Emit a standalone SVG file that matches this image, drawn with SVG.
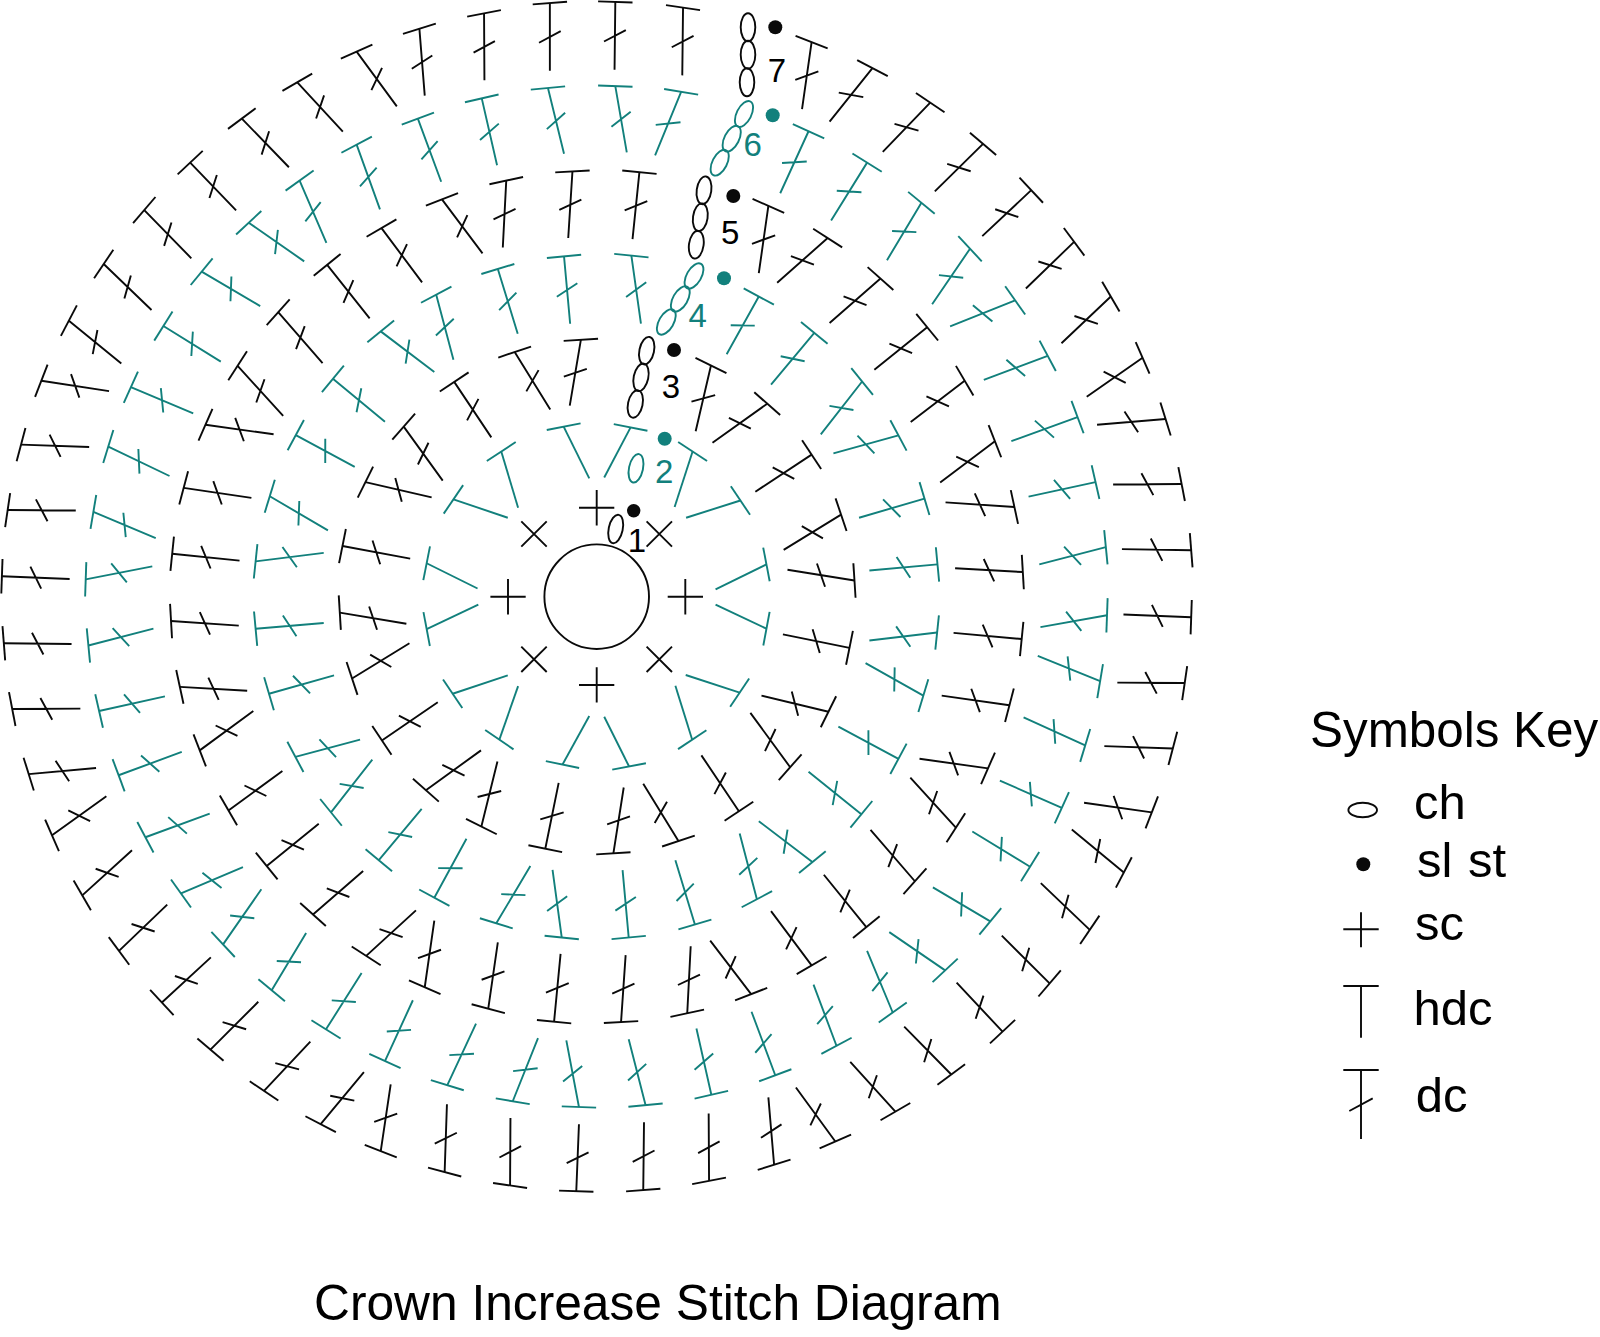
<svg xmlns="http://www.w3.org/2000/svg" width="1600" height="1337" viewBox="0 0 1600 1337">
<style>
.k{stroke:#0a0a0a;color:#0a0a0a}
.t{stroke:#12807c;color:#12807c}
path,ellipse,circle.o{fill:none;stroke-width:1.9;vector-effect:non-scaling-stroke}
.dot{stroke:none;fill:currentColor}
text{font-family:"Liberation Sans",Arial,sans-serif;fill:#000;stroke:none}
.t text{fill:#12807c}
.n{font-size:33px;text-anchor:middle}
.key{font-size:49px}
</style>
<defs>
<path id="d" d="M0 0V100M-16 58.6L16 41.4"/>
<path id="h" d="M0 0V100"/>
<path id="b7" d="M-28.900 0H28.900"/>
<path id="b6" d="M-33.700 0H33.700"/>
<path id="b5" d="M-40.400 0H40.400"/>
<path id="b4" d="M-50.300 0H50.300"/>
<path id="b3" d="M-66.900 0H66.900"/>
<path id="b2" d="M-99.300 0H99.300"/>
</defs>
<rect width="1600" height="1337" fill="#fff"/>
<g id="chart">
<g id="q1" transform="scale(.38265)">
<g class="k">
<use href="#d" transform="matrix(1.77 0 0 1.77 1437 8)"/>
<use href="#d" transform="matrix(1.75 -.01 .01 1.75 1265 35)"/>
<use href="#d" transform="matrix(1.75 -.14 .14 1.75 1096 75)"/>
<use href="#d" transform="matrix(1.43 -1.05 1.05 1.43 932 135)"/>
<use href="#d" transform="matrix(1.29 -1.19 1.19 1.29 777 215)"/>
<use href="#d" transform="matrix(1.27 -1.23 1.23 1.27 632 310)"/>
<use href="#d" transform="matrix(1.25 -1.2 1.2 1.25 497 425)"/>
<use href="#d" transform="matrix(1.26 -1.23 1.23 1.26 377 549)"/>
<use href="#d" transform="matrix(1.2 -1.25 1.25 1.2 271 690)"/>
<use href="#d" transform="matrix(1.12 -1.37 1.37 1.12 180 838)"/>
<use href="#d" transform="matrix(.27 -1.77 1.77 .27 108 995)"/>
<use href="#d" transform="matrix(.06 -1.78 1.78 .06 55 1162)"/>
<use href="#d" transform="matrix(.01 -1.78 1.78 .01 20 1333)"/>
<use href="#d" transform="matrix(.07 -1.77 1.77 .07 5 1506)"/>
<use href="#b7" transform="matrix(-1.552 .123 -.123 -1.552 1437 8)"/>
<use href="#b7" transform="matrix(-1.525 .295 -.295 -1.525 1265 35)"/>
<use href="#b7" transform="matrix(-1.485 .464 -.464 -1.485 1096 75)"/>
<use href="#b7" transform="matrix(-1.425 .628 -.628 -1.425 932 135)"/>
<use href="#b7" transform="matrix(-1.345 .783 -.783 -1.345 777 215)"/>
<use href="#b7" transform="matrix(-1.25 .928 -.928 -1.25 632 310)"/>
<use href="#b7" transform="matrix(-1.135 1.063 -1.063 -1.135 497 425)"/>
<use href="#b7" transform="matrix(-1.011 1.183 -1.183 -1.011 377 549)"/>
<use href="#b7" transform="matrix(-.87 1.289 -1.289 -.87 271 690)"/>
<use href="#b7" transform="matrix(-.722 1.38 -1.38 -.722 180 838)"/>
<use href="#b7" transform="matrix(-.565 1.452 -1.452 -.565 108 995)"/>
<use href="#b7" transform="matrix(-.398 1.505 -1.505 -.398 55 1162)"/>
<use href="#b7" transform="matrix(-.227 1.54 -1.54 -.227 20 1333)"/>
<use href="#b7" transform="matrix(-.054 1.555 -1.555 -.054 5 1506)"/>
<use href="#d" transform="matrix(1.74 .11 -.11 1.74 1496 448)"/>
<use href="#d" transform="matrix(1.75 .09 -.09 1.75 1323 472)"/>
<use href="#d" transform="matrix(1.41 -1.06 1.06 1.41 1155 521)"/>
<use href="#d" transform="matrix(1.42 -1.06 1.06 1.42 997 596)"/>
<use href="#d" transform="matrix(1.4 -1.11 1.11 1.4 855 692)"/>
<use href="#d" transform="matrix(1.33 -1.16 1.16 1.33 727 816)"/>
<use href="#d" transform="matrix(1.31 -1.19 1.19 1.31 621 956)"/>
<use href="#d" transform="matrix(.25 -1.78 1.78 .25 537 1110)"/>
<use href="#d" transform="matrix(.26 -1.77 1.77 .26 480 1275)"/>
<use href="#d" transform="matrix(.18 -1.76 1.76 .18 450 1447)"/>
<use href="#b5" transform="matrix(-1.112 .064 -.064 -1.112 1496 448)"/>
<use href="#b5" transform="matrix(-1.088 .237 -.237 -1.088 1323 472)"/>
<use href="#b5" transform="matrix(-1.039 .405 -.405 -1.039 1155 521)"/>
<use href="#b5" transform="matrix(-.964 .563 -.563 -.964 997 596)"/>
<use href="#b5" transform="matrix(-.868 .705 -.705 -.868 855 692)"/>
<use href="#b5" transform="matrix(-.744 .833 -.833 -.744 727 816)"/>
<use href="#b5" transform="matrix(-.604 .939 -.939 -.604 621 956)"/>
<use href="#b5" transform="matrix(-.45 1.023 -1.023 -.45 537 1110)"/>
<use href="#b5" transform="matrix(-.285 1.08 -1.08 -.285 480 1275)"/>
<use href="#b5" transform="matrix(-.113 1.11 -1.11 -.113 450 1447)"/>
<use href="#d" transform="matrix(1.72 .29 -.29 1.72 1518 888)"/>
<use href="#d" transform="matrix(1.5 -.93 .93 1.5 1345 920)"/>
<use href="#d" transform="matrix(1.45 -.97 .97 1.45 1187 998)"/>
<use href="#d" transform="matrix(1.41 -1.02 1.02 1.41 1055 1115)"/>
<use href="#d" transform="matrix(.4 -1.73 1.73 .4 955 1260)"/>
<use href="#d" transform="matrix(.33 -1.77 1.77 .33 895 1427)"/>
<use href="#b3" transform="matrix(-.672 .042 -.042 -.672 1518 888)"/>
<use href="#b3" transform="matrix(-.64 .215 -.215 -.64 1345 920)"/>
<use href="#b3" transform="matrix(-.562 .373 -.373 -.562 1187 998)"/>
<use href="#b3" transform="matrix(-.445 .505 -.505 -.445 1055 1115)"/>
<use href="#b3" transform="matrix(-.3 .605 -.605 -.3 955 1260)"/>
<use href="#b3" transform="matrix(-.133 .665 -.665 -.133 895 1427)"/>
</g>
<g class="t">
<use href="#d" transform="matrix(1.72 -.42 .42 1.72 1432 230)"/>
<use href="#d" transform="matrix(1.75 -.4 .4 1.75 1259 257)"/>
<use href="#d" transform="matrix(1.65 -.61 .61 1.65 1092 310)"/>
<use href="#d" transform="matrix(1.69 -.61 .61 1.69 932 378)"/>
<use href="#d" transform="matrix(1.63 -.7 .7 1.63 783 472)"/>
<use href="#d" transform="matrix(1.01 -1.45 1.45 1.01 650 582)"/>
<use href="#d" transform="matrix(.9 -1.53 1.53 .9 527 710)"/>
<use href="#d" transform="matrix(.93 -1.5 1.5 .93 427 852)"/>
<use href="#d" transform="matrix(.68 -1.63 1.63 .68 342 1012)"/>
<use href="#d" transform="matrix(.77 -1.6 1.6 .77 283 1167)"/>
<use href="#d" transform="matrix(.68 -1.63 1.63 .68 244 1338)"/>
<use href="#d" transform="matrix(-.34 -1.74 1.74 -.34 224 1514)"/>
<use href="#b6" transform="matrix(-1.33 .128 -.128 -1.33 1432 230)"/>
<use href="#b6" transform="matrix(-1.303 .301 -.301 -1.303 1259 257)"/>
<use href="#b6" transform="matrix(-1.25 .468 -.468 -1.25 1092 310)"/>
<use href="#b6" transform="matrix(-1.182 .628 -.628 -1.182 932 378)"/>
<use href="#b6" transform="matrix(-1.088 .777 -.777 -1.088 783 472)"/>
<use href="#b6" transform="matrix(-.978 .91 -.91 -.978 650 582)"/>
<use href="#b6" transform="matrix(-.85 1.033 -1.033 -.85 527 710)"/>
<use href="#b6" transform="matrix(-.708 1.133 -1.133 -.708 427 852)"/>
<use href="#b6" transform="matrix(-.548 1.218 -1.218 -.548 342 1012)"/>
<use href="#b6" transform="matrix(-.393 1.277 -1.277 -.393 283 1167)"/>
<use href="#b6" transform="matrix(-.222 1.316 -1.316 -.222 244 1338)"/>
<use href="#b6" transform="matrix(-.046 1.336 -1.336 -.046 224 1514)"/>
<use href="#d" transform="matrix(1.76 -.16 .16 1.76 1474 670)"/>
<use href="#d" transform="matrix(1.69 -.52 .52 1.69 1301 703)"/>
<use href="#d" transform="matrix(1.7 -.45 .45 1.7 1140 770)"/>
<use href="#d" transform="matrix(1.06 -1.4 1.4 1.06 995 866)"/>
<use href="#d" transform="matrix(1.12 -1.36 1.36 1.12 870 990)"/>
<use href="#d" transform="matrix(.83 -1.54 1.54 .83 773 1137)"/>
<use href="#d" transform="matrix(.89 -1.52 1.52 .89 705 1297)"/>
<use href="#d" transform="matrix(-.22 -1.78 1.78 -.22 668 1467)"/>
<use href="#b4" transform="matrix(-.89 .086 -.086 -.89 1474 670)"/>
<use href="#b4" transform="matrix(-.857 .259 -.259 -.857 1301 703)"/>
<use href="#b4" transform="matrix(-.79 .42 -.42 -.79 1140 770)"/>
<use href="#b4" transform="matrix(-.694 .565 -.565 -.694 995 866)"/>
<use href="#b4" transform="matrix(-.57 .69 -.69 -.57 870 990)"/>
<use href="#b4" transform="matrix(-.423 .787 -.787 -.423 773 1137)"/>
<use href="#b4" transform="matrix(-.263 .855 -.855 -.263 705 1297)"/>
<use href="#b4" transform="matrix(-.093 .892 -.892 -.093 668 1467)"/>
<use href="#h" transform="matrix(1.35 -.67 .67 1.35 1473 1115)"/>
<use href="#h" transform="matrix(1.47 -.44 .44 1.47 1310 1180)"/>
<use href="#h" transform="matrix(.48 -1.42 1.42 .48 1185 1305)"/>
<use href="#h" transform="matrix(.66 -1.33 1.33 .66 1115 1472)"/>
<use href="#b2" transform="matrix(-.445 .087 -.087 -.445 1473 1115)"/>
<use href="#b2" transform="matrix(-.38 .25 -.25 -.38 1310 1180)"/>
<use href="#b2" transform="matrix(-.255 .375 -.375 -.255 1185 1305)"/>
<use href="#b2" transform="matrix(-.088 .445 -.445 -.088 1115 1472)"/>
</g>
</g>
<g id="q2" transform="translate(600 0) scale(.38265)">
<g class="k">
<use href="#d" transform="matrix(1.77 .02 -.02 1.77 40 5)"/>
<use href="#d" transform="matrix(1.77 .02 -.02 1.77 217 20)"/>
<use href="#d" transform="matrix(1.75 .25 -.25 1.75 553 110)"/>
<use href="#d" transform="matrix(1.4 1.12 -1.12 1.4 712 178)"/>
<use href="#d" transform="matrix(1.29 1.24 -1.24 1.29 863 268)"/>
<use href="#d" transform="matrix(1.24 1.26 -1.26 1.24 1001 376)"/>
<use href="#d" transform="matrix(1.2 1.28 -1.28 1.2 1127 497)"/>
<use href="#d" transform="matrix(1.22 1.26 -1.26 1.22 1239 632)"/>
<use href="#d" transform="matrix(1.22 1.29 -1.29 1.22 1335 775)"/>
<use href="#d" transform="matrix(1.02 1.46 -1.46 1.02 1418 935)"/>
<use href="#d" transform="matrix(.15 1.79 -1.79 .15 1478 1095)"/>
<use href="#d" transform="matrix(.01 1.79 -1.79 .01 1520 1265)"/>
<use href="#d" transform="matrix(-.03 1.81 -1.81 -.03 1545 1438)"/>
<use href="#b7" transform="matrix(-1.555 -.048 .048 -1.555 40 5)"/>
<use href="#b7" transform="matrix(-1.54 -.225 .225 -1.54 217 20)"/>
<use href="#b7" transform="matrix(-1.45 -.561 .561 -1.45 553 110)"/>
<use href="#b7" transform="matrix(-1.382 -.72 .72 -1.382 712 178)"/>
<use href="#b7" transform="matrix(-1.292 -.871 .871 -1.292 863 268)"/>
<use href="#b7" transform="matrix(-1.184 -1.009 1.009 -1.184 1001 376)"/>
<use href="#b7" transform="matrix(-1.063 -1.135 1.135 -1.063 1127 497)"/>
<use href="#b7" transform="matrix(-.928 -1.247 1.247 -.928 1239 632)"/>
<use href="#b7" transform="matrix(-.785 -1.343 1.343 -.785 1335 775)"/>
<use href="#b7" transform="matrix(-.625 -1.426 1.426 -.625 1418 935)"/>
<use href="#b7" transform="matrix(-.465 -1.486 1.486 -.465 1478 1095)"/>
<use href="#b7" transform="matrix(-.295 -1.528 1.528 -.295 1520 1265)"/>
<use href="#b7" transform="matrix(-.122 -1.553 1.553 -.122 1545 1438)"/>
<use href="#d" transform="matrix(1.75 .18 -.18 1.75 103 450)"/>
<use href="#d" transform="matrix(1.76 .25 -.25 1.76 440 538)"/>
<use href="#d" transform="matrix(1.17 1.32 -1.32 1.17 595 622)"/>
<use href="#d" transform="matrix(1.16 1.33 -1.33 1.16 733 728)"/>
<use href="#d" transform="matrix(1.11 1.38 -1.38 1.11 855 855)"/>
<use href="#d" transform="matrix(1.08 1.41 -1.41 1.08 953 995)"/>
<use href="#d" transform="matrix(1.08 1.43 -1.43 1.08 1032 1153)"/>
<use href="#d" transform="matrix(-.12 1.8 -1.8 -.12 1083 1325)"/>
<use href="#d" transform="matrix(-.1 1.77 -1.77 -.1 1105 1495)"/>
<use href="#b5" transform="matrix(-1.11 -.111 .111 -1.11 103 450)"/>
<use href="#b5" transform="matrix(-1.022 -.448 .448 -1.022 440 538)"/>
<use href="#b5" transform="matrix(-.938 -.603 .603 -.938 595 622)"/>
<use href="#b5" transform="matrix(-.832 -.741 .741 -.832 733 728)"/>
<use href="#b5" transform="matrix(-.705 -.863 .863 -.705 855 855)"/>
<use href="#b5" transform="matrix(-.565 -.961 .961 -.565 953 995)"/>
<use href="#b5" transform="matrix(-.407 -1.04 1.04 -.407 1032 1153)"/>
<use href="#b5" transform="matrix(-.235 -1.091 1.091 -.235 1083 1325)"/>
<use href="#b5" transform="matrix(-.065 -1.113 1.113 -.065 1105 1495)"/>
<use href="#d" transform="matrix(1.72 .4 -.4 1.72 290 955)"/>
<use href="#d" transform="matrix(1.02 1.43 -1.43 1.02 437 1055)"/>
<use href="#d" transform="matrix(.97 1.47 -1.47 .97 553 1188)"/>
<use href="#d" transform="matrix(.92 1.5 -1.5 .92 630 1345)"/>
<use href="#d" transform="matrix(-.28 1.75 -1.75 -.28 665 1517)"/>
<use href="#b3" transform="matrix(-.605 -.298 .298 -.605 290 955)"/>
<use href="#b3" transform="matrix(-.505 -.445 .445 -.505 437 1055)"/>
<use href="#b3" transform="matrix(-.372 -.561 .561 -.372 553 1188)"/>
<use href="#b3" transform="matrix(-.215 -.638 .638 -.215 630 1345)"/>
<use href="#b3" transform="matrix(-.043 -.673 .673 -.043 665 1517)"/>
</g>
<g class="t">
<use href="#d" transform="matrix(1.73 -.3 .3 1.73 40 225)"/>
<use href="#d" transform="matrix(1.66 .68 -.68 1.66 212 240)"/>
<use href="#d" transform="matrix(1.62 .74 -.74 1.62 545 343)"/>
<use href="#d" transform="matrix(1.51 .94 -.94 1.51 698 425)"/>
<use href="#d" transform="matrix(1.5 .9 -.9 1.5 840 530)"/>
<use href="#d" transform="matrix(1.45 .99 -.99 1.45 967 650)"/>
<use href="#d" transform="matrix(.68 1.7 -1.7 .68 1085 785)"/>
<use href="#d" transform="matrix(.63 1.67 -1.67 .63 1170 930)"/>
<use href="#d" transform="matrix(.63 1.73 -1.73 .63 1248 1090)"/>
<use href="#d" transform="matrix(.38 1.75 -1.75 .38 1295 1260)"/>
<use href="#d" transform="matrix(.45 1.74 -1.74 .45 1322 1430)"/>
<use href="#b6" transform="matrix(-1.335 -.048 .048 -1.335 40 225)"/>
<use href="#b6" transform="matrix(-1.32 -.22 .22 -1.32 212 240)"/>
<use href="#b6" transform="matrix(-1.217 -.553 .553 -1.217 545 343)"/>
<use href="#b6" transform="matrix(-1.135 -.706 .706 -1.135 698 425)"/>
<use href="#b6" transform="matrix(-1.03 -.848 .848 -1.03 840 530)"/>
<use href="#b6" transform="matrix(-.91 -.975 .975 -.91 967 650)"/>
<use href="#b6" transform="matrix(-.775 -1.093 1.093 -.775 1085 785)"/>
<use href="#b6" transform="matrix(-.63 -1.178 1.178 -.63 1170 930)"/>
<use href="#b6" transform="matrix(-.47 -1.256 1.256 -.47 1248 1090)"/>
<use href="#b6" transform="matrix(-.3 -1.303 1.303 -.3 1295 1260)"/>
<use href="#b6" transform="matrix(-.13 -1.33 1.33 -.13 1322 1430)"/>
<use href="#d" transform="matrix(1.78 -.25 .25 1.78 82 668)"/>
<use href="#d" transform="matrix(1.51 .84 -.84 1.51 415 775)"/>
<use href="#d" transform="matrix(1.35 1.13 -1.13 1.35 560 870)"/>
<use href="#d" transform="matrix(1.38 1.08 -1.08 1.38 685 997)"/>
<use href="#d" transform="matrix(.47 1.7 -1.7 .47 780 1138)"/>
<use href="#d" transform="matrix(.5 1.71 -1.71 .5 848 1303)"/>
<use href="#d" transform="matrix(.16 1.78 -1.78 .16 882 1475)"/>
<use href="#b4" transform="matrix(-.892 -.09 .09 -.892 82 668)"/>
<use href="#b4" transform="matrix(-.785 -.423 .423 -.785 415 775)"/>
<use href="#b4" transform="matrix(-.69 -.568 .568 -.69 560 870)"/>
<use href="#b4" transform="matrix(-.563 -.693 .693 -.563 685 997)"/>
<use href="#b4" transform="matrix(-.422 -.788 .788 -.422 780 1138)"/>
<use href="#b4" transform="matrix(-.257 -.856 .856 -.257 848 1303)"/>
<use href="#b4" transform="matrix(-.085 -.89 .89 -.085 882 1475)"/>
<use href="#h" transform="matrix(1.31 .69 -.69 1.31 80 1117)"/>
<use href="#h" transform="matrix(1.45 .47 -.47 1.45 242 1180)"/>
<use href="#h" transform="matrix(.45 1.42 -1.42 .45 367 1308)"/>
<use href="#h" transform="matrix(.65 1.33 -1.33 .65 435 1475)"/>
<use href="#b2" transform="matrix(-.443 -.088 .088 -.443 80 1117)"/>
<use href="#b2" transform="matrix(-.38 -.25 .25 -.38 242 1180)"/>
<use href="#b2" transform="matrix(-.252 -.375 .375 -.252 367 1308)"/>
<use href="#b2" transform="matrix(-.085 -.443 .443 -.085 435 1475)"/>
</g>
</g>
<g id="q3" transform="translate(0 600) scale(.38265)">
<g class="k">
<use href="#d" transform="matrix(.02 -1.77 1.77 .02 10 113)"/>
<use href="#d" transform="matrix(-.01 -1.78 1.78 -.01 32 285)"/>
<use href="#d" transform="matrix(-.16 -1.76 1.76 -.16 75 455)"/>
<use href="#d" transform="matrix(-1.02 -1.42 1.42 -1.02 136 615)"/>
<use href="#d" transform="matrix(-1.18 -1.3 1.3 -1.18 215 772)"/>
<use href="#d" transform="matrix(-1.21 -1.26 1.26 -1.21 311 917)"/>
<use href="#d" transform="matrix(-1.18 -1.28 1.28 -1.18 423 1052)"/>
<use href="#d" transform="matrix(-1.25 -1.25 1.25 -1.25 550 1175)"/>
<use href="#d" transform="matrix(-1.29 -1.21 1.21 -1.29 690 1283)"/>
<use href="#d" transform="matrix(-1.36 -1.13 1.13 -1.36 838 1370)"/>
<use href="#d" transform="matrix(-1.74 -.26 .26 -1.74 995 1440)"/>
<use href="#d" transform="matrix(-1.77 -.06 .06 -1.77 1162 1495)"/>
<use href="#d" transform="matrix(-1.76 -.01 .01 -1.76 1333 1530)"/>
<use href="#d" transform="matrix(-1.75 -.07 .07 -1.75 1506 1545)"/>
<use href="#b7" transform="matrix(.121 1.55 -1.55 .121 10 113)"/>
<use href="#b7" transform="matrix(.293 1.528 -1.528 .293 32 285)"/>
<use href="#b7" transform="matrix(.463 1.485 -1.485 .463 75 455)"/>
<use href="#b7" transform="matrix(.623 1.424 -1.424 .623 136 615)"/>
<use href="#b7" transform="matrix(.78 1.345 -1.345 .78 215 772)"/>
<use href="#b7" transform="matrix(.925 1.249 -1.249 .925 311 917)"/>
<use href="#b7" transform="matrix(1.06 1.137 -1.137 1.06 423 1052)"/>
<use href="#b7" transform="matrix(1.183 1.01 -1.01 1.183 550 1175)"/>
<use href="#b7" transform="matrix(1.291 .87 -.87 1.291 690 1283)"/>
<use href="#b7" transform="matrix(1.378 .722 -.722 1.378 838 1370)"/>
<use href="#b7" transform="matrix(1.448 .565 -.565 1.448 995 1440)"/>
<use href="#b7" transform="matrix(1.503 .398 -.398 1.503 1162 1495)"/>
<use href="#b7" transform="matrix(1.538 .227 -.227 1.538 1333 1530)"/>
<use href="#b7" transform="matrix(1.553 .054 -.054 1.553 1506 1545)"/>
<use href="#d" transform="matrix(.12 -1.77 1.77 .12 447 55)"/>
<use href="#d" transform="matrix(.1 -1.76 1.76 .1 470 227)"/>
<use href="#d" transform="matrix(-1.03 -1.4 1.4 -1.03 522 393)"/>
<use href="#d" transform="matrix(-1.03 -1.41 1.41 -1.03 597 550)"/>
<use href="#d" transform="matrix(-1.1 -1.36 1.36 -1.1 697 695)"/>
<use href="#d" transform="matrix(-1.14 -1.31 1.31 -1.14 818 822)"/>
<use href="#d" transform="matrix(-1.19 -1.3 1.3 -1.19 957 930)"/>
<use href="#d" transform="matrix(-1.74 -.25 .25 -1.74 1110 1012)"/>
<use href="#d" transform="matrix(-1.73 -.25 .25 -1.73 1276 1068)"/>
<use href="#d" transform="matrix(-1.77 -.17 .17 -1.77 1448 1102)"/>
<use href="#b5" transform="matrix(.063 1.113 -1.113 .063 447 55)"/>
<use href="#b5" transform="matrix(.235 1.09 -1.09 .235 470 227)"/>
<use href="#b5" transform="matrix(.401 1.038 -1.038 .401 522 393)"/>
<use href="#b5" transform="matrix(.558 .963 -.963 .558 597 550)"/>
<use href="#b5" transform="matrix(.703 .863 -.863 .703 697 695)"/>
<use href="#b5" transform="matrix(.83 .742 -.742 .83 818 822)"/>
<use href="#b5" transform="matrix(.938 .603 -.603 .938 957 930)"/>
<use href="#b5" transform="matrix(1.02 .45 -.45 1.02 1110 1012)"/>
<use href="#b5" transform="matrix(1.076 .284 -.284 1.076 1276 1068)"/>
<use href="#b5" transform="matrix(1.11 .112 -.112 1.11 1448 1102)"/>
<use href="#d" transform="matrix(.29 -1.74 1.74 .29 888 33)"/>
<use href="#d" transform="matrix(-.92 -1.5 1.5 -.92 920 205)"/>
<use href="#d" transform="matrix(-1 -1.46 1.46 -1 998 367)"/>
<use href="#d" transform="matrix(-1.04 -1.44 1.44 -1.04 1113 497)"/>
<use href="#d" transform="matrix(-1.7 -.42 .42 -1.7 1258 592)"/>
<use href="#d" transform="matrix(-1.72 -.35 .35 -1.72 1425 650)"/>
<use href="#b3" transform="matrix(.041 .672 -.672 .041 888 33)"/>
<use href="#b3" transform="matrix(.213 .64 -.64 .213 920 205)"/>
<use href="#b3" transform="matrix(.375 .562 -.562 .375 998 367)"/>
<use href="#b3" transform="matrix(.505 .447 -.447 .505 1113 497)"/>
<use href="#b3" transform="matrix(.6 .302 -.302 .6 1258 592)"/>
<use href="#b3" transform="matrix(.658 .135 -.135 .658 1425 650)"/>
</g>
<g class="t">
<use href="#d" transform="matrix(-.44 -1.7 1.7 -.44 231 119)"/>
<use href="#d" transform="matrix(-.38 -1.72 1.72 -.38 259 290)"/>
<use href="#d" transform="matrix(-.61 -1.65 1.65 -.61 310 458)"/>
<use href="#d" transform="matrix(-.62 -1.68 1.68 -.62 380 620)"/>
<use href="#d" transform="matrix(-.69 -1.62 1.62 -.69 473 767)"/>
<use href="#d" transform="matrix(-1.44 -1 1 -1.44 583 900)"/>
<use href="#d" transform="matrix(-1.5 -.9 .9 -1.5 710 1020)"/>
<use href="#d" transform="matrix(-1.47 -.93 .93 -1.47 852 1122)"/>
<use href="#d" transform="matrix(-1.59 -.73 .73 -1.59 1006 1205)"/>
<use href="#d" transform="matrix(-1.61 -.75 .75 -1.61 1169 1268)"/>
<use href="#d" transform="matrix(-1.65 -.66 .66 -1.65 1340 1310)"/>
<use href="#d" transform="matrix(-1.74 .33 -.33 -1.74 1513 1325)"/>
<use href="#b6" transform="matrix(.127 1.329 -1.329 .127 231 119)"/>
<use href="#b6" transform="matrix(.298 1.301 -1.301 .298 259 290)"/>
<use href="#b6" transform="matrix(.466 1.25 -1.25 .466 310 458)"/>
<use href="#b6" transform="matrix(.628 1.18 -1.18 .628 380 620)"/>
<use href="#b6" transform="matrix(.775 1.087 -1.087 .775 473 767)"/>
<use href="#b6" transform="matrix(.908 .977 -.977 .908 583 900)"/>
<use href="#b6" transform="matrix(1.028 .85 -.85 1.028 710 1020)"/>
<use href="#b6" transform="matrix(1.13 .708 -.708 1.13 852 1122)"/>
<use href="#b6" transform="matrix(1.213 .554 -.554 1.213 1006 1205)"/>
<use href="#b6" transform="matrix(1.276 .391 -.391 1.276 1169 1268)"/>
<use href="#b6" transform="matrix(1.318 .22 -.22 1.318 1340 1310)"/>
<use href="#b6" transform="matrix(1.333 .047 -.047 1.333 1513 1325)"/>
<use href="#d" transform="matrix(-.15 -1.78 1.78 -.15 668 75)"/>
<use href="#d" transform="matrix(-.48 -1.7 1.7 -.48 703 245)"/>
<use href="#d" transform="matrix(-.45 -1.69 1.69 -.45 772 410)"/>
<use href="#d" transform="matrix(-1.38 -1.08 1.08 -1.38 865 555)"/>
<use href="#d" transform="matrix(-1.34 -1.12 1.12 -1.34 990 680)"/>
<use href="#d" transform="matrix(-1.54 -.84 .84 -1.54 1135 778)"/>
<use href="#d" transform="matrix(-1.5 -.89 .89 -1.5 1297 845)"/>
<use href="#d" transform="matrix(-1.77 .24 -.24 -1.77 1468 882)"/>
<use href="#b4" transform="matrix(.083 .892 -.892 .083 668 75)"/>
<use href="#b4" transform="matrix(.253 .857 -.857 .253 703 245)"/>
<use href="#b4" transform="matrix(.418 .788 -.788 .418 772 410)"/>
<use href="#b4" transform="matrix(.563 .695 -.695 .563 865 555)"/>
<use href="#b4" transform="matrix(.688 .57 -.57 .688 990 680)"/>
<use href="#b4" transform="matrix(.786 .425 -.425 .786 1135 778)"/>
<use href="#b4" transform="matrix(.853 .263 -.263 .853 1297 845)"/>
<use href="#b4" transform="matrix(.89 .092 -.092 .89 1468 882)"/>
<use href="#h" transform="matrix(-.64 -1.35 1.35 -.64 1115 76)"/>
<use href="#h" transform="matrix(-.48 -1.44 1.44 -.48 1183 245)"/>
<use href="#h" transform="matrix(-1.4 -.49 .49 -1.4 1305 365)"/>
<use href="#h" transform="matrix(-1.27 -.7 .7 -1.27 1470 430)"/>
<use href="#b2" transform="matrix(.084 .445 -.445 .084 1115 76)"/>
<use href="#b2" transform="matrix(.253 .377 -.377 .253 1183 245)"/>
<use href="#b2" transform="matrix(.373 .255 -.255 .373 1305 365)"/>
<use href="#b2" transform="matrix(.438 .09 -.09 .438 1470 430)"/>
</g>
</g>
<g id="q4" transform="translate(600 600) scale(.38265)">
<g class="k">
<use href="#d" transform="matrix(-.07 1.77 -1.77 -.07 1545 45)"/>
<use href="#d" transform="matrix(-.01 1.76 -1.76 -.01 1528 217)"/>
<use href="#d" transform="matrix(-.06 1.79 -1.79 -.06 1497 388)"/>
<use href="#d" transform="matrix(-.25 1.77 -1.77 -.25 1442 555)"/>
<use href="#d" transform="matrix(-1.12 1.36 -1.36 -1.12 1369 712)"/>
<use href="#d" transform="matrix(-1.22 1.28 -1.28 -1.22 1280 862)"/>
<use href="#d" transform="matrix(-1.25 1.25 -1.25 -1.25 1175 1002)"/>
<use href="#d" transform="matrix(-1.28 1.2 -1.2 -1.28 1052 1128)"/>
<use href="#d" transform="matrix(-1.25 1.23 -1.23 -1.25 918 1240)"/>
<use href="#d" transform="matrix(-1.3 1.18 -1.18 -1.3 772 1337)"/>
<use href="#d" transform="matrix(-1.41 1.03 -1.03 -1.41 615 1415)"/>
<use href="#d" transform="matrix(-1.76 .15 -.15 -1.76 455 1476)"/>
<use href="#d" transform="matrix(-1.76 .01 -.01 -1.76 285 1518)"/>
<use href="#d" transform="matrix(-1.77 -.02 .02 -1.77 113 1542)"/>
<use href="#b7" transform="matrix(.053 -1.553 1.553 .053 1545 45)"/>
<use href="#b7" transform="matrix(.225 -1.536 1.536 .225 1528 217)"/>
<use href="#b7" transform="matrix(.396 -1.505 1.505 .396 1497 388)"/>
<use href="#b7" transform="matrix(.563 -1.45 1.45 .563 1442 555)"/>
<use href="#b7" transform="matrix(.72 -1.377 1.377 .72 1369 712)"/>
<use href="#b7" transform="matrix(.87 -1.288 1.288 .87 1280 862)"/>
<use href="#b7" transform="matrix(1.01 -1.183 1.183 1.01 1175 1002)"/>
<use href="#b7" transform="matrix(1.136 -1.06 1.06 1.136 1052 1128)"/>
<use href="#b7" transform="matrix(1.248 -.926 .926 1.248 918 1240)"/>
<use href="#b7" transform="matrix(1.345 -.78 .78 1.345 772 1337)"/>
<use href="#b7" transform="matrix(1.423 -.623 .623 1.423 615 1415)"/>
<use href="#b7" transform="matrix(1.484 -.463 .463 1.484 455 1476)"/>
<use href="#b7" transform="matrix(1.526 -.293 .293 1.526 285 1518)"/>
<use href="#b7" transform="matrix(1.55 -.121 .121 1.55 113 1542)"/>
<use href="#d" transform="matrix(-.16 1.78 -1.78 -.16 1102 102)"/>
<use href="#d" transform="matrix(-.25 1.77 -1.77 -.25 1070 275)"/>
<use href="#d" transform="matrix(-.25 1.79 -1.79 -.25 1014 440)"/>
<use href="#d" transform="matrix(-1.31 1.19 -1.19 -1.31 930 595)"/>
<use href="#d" transform="matrix(-1.34 1.16 -1.16 -1.34 823 735)"/>
<use href="#d" transform="matrix(-1.37 1.11 -1.11 -1.37 696 855)"/>
<use href="#d" transform="matrix(-1.42 1.06 -1.06 -1.42 553 955)"/>
<use href="#d" transform="matrix(-1.4 1.07 -1.07 -1.4 395 1030)"/>
<use href="#d" transform="matrix(-1.75 -.09 .09 -1.75 228 1080)"/>
<use href="#d" transform="matrix(-1.75 -.12 .12 -1.75 55 1103)"/>
<use href="#b5" transform="matrix(.11 -1.11 1.11 .11 1102 102)"/>
<use href="#b5" transform="matrix(.283 -1.078 1.078 .283 1070 275)"/>
<use href="#b5" transform="matrix(.448 -1.022 1.022 .448 1014 440)"/>
<use href="#b5" transform="matrix(.603 -.938 .938 .603 930 595)"/>
<use href="#b5" transform="matrix(.743 -.831 .831 .743 823 735)"/>
<use href="#b5" transform="matrix(.863 -.704 .704 .863 696 855)"/>
<use href="#b5" transform="matrix(.963 -.561 .561 .963 553 955)"/>
<use href="#b5" transform="matrix(1.038 -.403 .403 1.038 395 1030)"/>
<use href="#b5" transform="matrix(1.088 -.236 .236 1.088 228 1080)"/>
<use href="#b5" transform="matrix(1.111 -.063 .063 1.111 55 1103)"/>
<use href="#d" transform="matrix(-.35 1.74 -1.74 -.35 652 125)"/>
<use href="#d" transform="matrix(-.42 1.75 -1.75 -.42 597 292)"/>
<use href="#d" transform="matrix(-1.42 1.04 -1.04 -1.42 497 437)"/>
<use href="#d" transform="matrix(-1.46 .98 -.98 -1.46 363 552)"/>
<use href="#d" transform="matrix(-1.5 .92 -.92 -1.5 205 630)"/>
<use href="#d" transform="matrix(-1.72 -.27 .27 -1.72 35 662)"/>
<use href="#b3" transform="matrix(.133 -.66 .66 .133 652 125)"/>
<use href="#b3" transform="matrix(.3 -.605 .605 .3 597 292)"/>
<use href="#b3" transform="matrix(.445 -.505 .505 .445 497 437)"/>
<use href="#b3" transform="matrix(.56 -.371 .371 .56 363 552)"/>
<use href="#b3" transform="matrix(.638 -.213 .213 .638 205 630)"/>
<use href="#b3" transform="matrix(.67 -.043 .043 .67 35 662)"/>
</g>
<g class="t">
<use href="#d" transform="matrix(.31 1.74 -1.74 .31 1325 40)"/>
<use href="#d" transform="matrix(-.66 1.63 -1.63 -.66 1307 212)"/>
<use href="#d" transform="matrix(-.73 1.61 -1.61 -.73 1268 380)"/>
<use href="#d" transform="matrix(-.71 1.62 -1.62 -.71 1207 543)"/>
<use href="#d" transform="matrix(-.92 1.51 -1.51 -.92 1124 697)"/>
<use href="#d" transform="matrix(-.89 1.5 -1.5 -.89 1020 840)"/>
<use href="#d" transform="matrix(-1 1.46 -1.46 -1 902 968)"/>
<use href="#d" transform="matrix(-1.61 .67 -.67 -1.61 765 1078)"/>
<use href="#d" transform="matrix(-1.6 .6 -.6 -1.6 618 1165)"/>
<use href="#d" transform="matrix(-1.66 .62 -.62 -1.66 458 1242)"/>
<use href="#d" transform="matrix(-1.73 .39 -.39 -1.73 291 1293)"/>
<use href="#d" transform="matrix(-1.72 .44 -.44 -1.72 119 1320)"/>
<use href="#b6" transform="matrix(.048 -1.333 1.333 .048 1325 40)"/>
<use href="#b6" transform="matrix(.22 -1.315 1.315 .22 1307 212)"/>
<use href="#b6" transform="matrix(.388 -1.276 1.276 .388 1268 380)"/>
<use href="#b6" transform="matrix(.551 -1.215 1.215 .551 1207 543)"/>
<use href="#b6" transform="matrix(.705 -1.132 1.132 .705 1124 697)"/>
<use href="#b6" transform="matrix(.848 -1.028 1.028 .848 1020 840)"/>
<use href="#b6" transform="matrix(.976 -.91 .91 .976 902 968)"/>
<use href="#b6" transform="matrix(1.086 -.773 .773 1.086 765 1078)"/>
<use href="#b6" transform="matrix(1.173 -.626 .626 1.173 618 1165)"/>
<use href="#b6" transform="matrix(1.25 -.466 .466 1.25 458 1242)"/>
<use href="#b6" transform="matrix(1.301 -.299 .299 1.301 291 1293)"/>
<use href="#b6" transform="matrix(1.328 -.127 .127 1.328 119 1320)"/>
<use href="#d" transform="matrix(.21 1.77 -1.77 .21 881 85)"/>
<use href="#d" transform="matrix(-.85 1.51 -1.51 -.85 845 250)"/>
<use href="#d" transform="matrix(-.84 1.57 -1.57 -.84 780 415)"/>
<use href="#d" transform="matrix(-1.11 1.38 -1.38 -1.11 683 560)"/>
<use href="#d" transform="matrix(-1.07 1.4 -1.4 -1.07 555 685)"/>
<use href="#d" transform="matrix(-1.72 .45 -.45 -1.72 410 782)"/>
<use href="#d" transform="matrix(-1.68 .51 -.51 -1.68 248 848)"/>
<use href="#d" transform="matrix(-1.76 .16 -.16 -1.76 75 882)"/>
<use href="#b4" transform="matrix(.093 -.889 .889 .093 881 85)"/>
<use href="#b4" transform="matrix(.258 -.853 .853 .258 845 250)"/>
<use href="#b4" transform="matrix(.423 -.788 .788 .423 780 415)"/>
<use href="#b4" transform="matrix(.568 -.691 .691 .568 683 560)"/>
<use href="#b4" transform="matrix(.693 -.563 .563 .693 555 685)"/>
<use href="#b4" transform="matrix(.79 -.418 .418 .79 410 782)"/>
<use href="#b4" transform="matrix(.856 -.256 .256 .856 248 848)"/>
<use href="#b4" transform="matrix(.89 -.083 .083 .89 75 882)"/>
<use href="#h" transform="matrix(-.63 1.33 -1.33 -.63 435 75)"/>
<use href="#h" transform="matrix(-.46 1.41 -1.41 -.46 365 242)"/>
<use href="#h" transform="matrix(-1.41 .44 -.44 -1.41 241 365)"/>
<use href="#h" transform="matrix(-1.3 .65 -.65 -1.3 76 435)"/>
<use href="#b2" transform="matrix(.083 -.443 .443 .083 435 75)"/>
<use href="#b2" transform="matrix(.25 -.373 .373 .25 365 242)"/>
<use href="#b2" transform="matrix(.373 -.249 .249 .373 241 365)"/>
<use href="#b2" transform="matrix(.443 -.084 .084 .443 76 435)"/>
</g>
</g>
</g>
<g id="centre" class="k">
<circle class="o" cx="596.7" cy="596.7" r="52.3"/>
<path d="M579 507.700H614.300M596.700 490V525.400"/>
<path d="M490.400 596.700H525.700M508 579V614.400"/>
<path d="M667.700 596.700H703M685.300 579V614.400"/>
<path d="M579 685H614.300M596.700 667.300V702.600"/>
<path d="M521.300 521.300L546.700 546.700M521.300 546.700L546.700 521.300"/>
<path d="M646.600 521.300L672 546.700M646.600 546.700L672 521.300"/>
<path d="M521.300 646.600L546.700 672M521.300 672L546.700 646.600"/>
<path d="M646.600 646.600L672 672M646.600 672L672 646.600"/>
</g>
<g id="chains">
<g id="row1" class="k">
<ellipse cx="615.700" cy="529" rx="7" ry="14.500" transform="rotate(12 615.700 529)"/>
<circle class="dot" cx="633.700" cy="510.700" r="6.700"/>
<text class="n" x="637" y="551.700">1</text>
</g>
<g id="row2" class="t">
<ellipse cx="636" cy="468.300" rx="7" ry="14.500" transform="rotate(12 636 468.300)"/>
<circle class="dot" cx="664.700" cy="438.700" r="7"/>
<text class="n" x="664.300" y="483.300">2</text>
</g>
<g id="row3" class="k">
<ellipse cx="646.700" cy="350.700" rx="7.300" ry="14" transform="rotate(12 646.700 350.700)"/>
<ellipse cx="641" cy="377.300" rx="7.300" ry="14" transform="rotate(12 641 377.300)"/>
<ellipse cx="635.300" cy="404" rx="7.300" ry="14" transform="rotate(12 635.300 404)"/>
<circle class="dot" cx="674" cy="350" r="7"/>
<text class="n" x="671" y="398.300">3</text>
</g>
<g id="row4" class="t">
<ellipse cx="694" cy="276" rx="7.300" ry="14" transform="rotate(30 694 276)"/>
<ellipse cx="680.300" cy="299" rx="7.300" ry="14" transform="rotate(30 680.300 299)"/>
<ellipse cx="666.300" cy="322" rx="7.300" ry="14" transform="rotate(30 666.300 322)"/>
<circle class="dot" cx="724" cy="278.300" r="7"/>
<text class="n" x="697.700" y="327.300">4</text>
</g>
<g id="row5" class="k">
<ellipse cx="704" cy="190.300" rx="7.300" ry="14" transform="rotate(8 704 190.300)"/>
<ellipse cx="700.300" cy="217.300" rx="7.300" ry="14" transform="rotate(8 700.300 217.300)"/>
<ellipse cx="696.300" cy="244.700" rx="7.300" ry="14" transform="rotate(8 696.300 244.700)"/>
<circle class="dot" cx="733.300" cy="196" r="7"/>
<text class="n" x="730.300" y="244">5</text>
</g>
<g id="row6" class="t">
<ellipse cx="744" cy="114" rx="7.300" ry="14" transform="rotate(27 744 114)"/>
<ellipse cx="731.700" cy="138.700" rx="7.300" ry="14" transform="rotate(27 731.700 138.700)"/>
<ellipse cx="719.700" cy="162.700" rx="7.300" ry="14" transform="rotate(27 719.700 162.700)"/>
<circle class="dot" cx="772.700" cy="115.300" r="7"/>
<text class="n" x="752.700" y="156">6</text>
</g>
<g id="row7" class="k">
<ellipse cx="748" cy="27.300" rx="7.300" ry="14"/>
<ellipse cx="748" cy="54.700" rx="7.300" ry="14"/>
<ellipse cx="747" cy="82.300" rx="7.300" ry="14"/>
<circle class="dot" cx="775.300" cy="27.300" r="7"/>
<text class="n" x="777" y="81.700">7</text>
</g>
</g>
<g id="symbols-key" class="k">
<text x="1310" y="746.700" style="font-size:49.400px">Symbols Key</text>
<ellipse cx="1362.700" cy="810" rx="14.300" ry="7.300"/>
<text class="key" x="1414" y="819.300">ch</text>
<circle class="dot" cx="1363.300" cy="864.300" r="7"/>
<text class="key" x="1417" y="876.700" style="word-spacing:2px">sl st</text>
<path d="M1343.300 929.300H1378.700M1361 912.300V947.300"/>
<text class="key" x="1415" y="940">sc</text>
<path d="M1343.300 986H1378.700M1361 986V1037.700"/>
<text class="key" x="1413.500" y="1025">hdc</text>
<path d="M1343.300 1070H1378.700M1361 1070V1139M1349.300 1111L1372.700 1098.300"/>
<text class="key" x="1415.700" y="1112.300">dc</text>
</g>
<text id="title" x="314" y="1320" style="font-size:49.700px">Crown Increase Stitch Diagram</text>
</svg>
